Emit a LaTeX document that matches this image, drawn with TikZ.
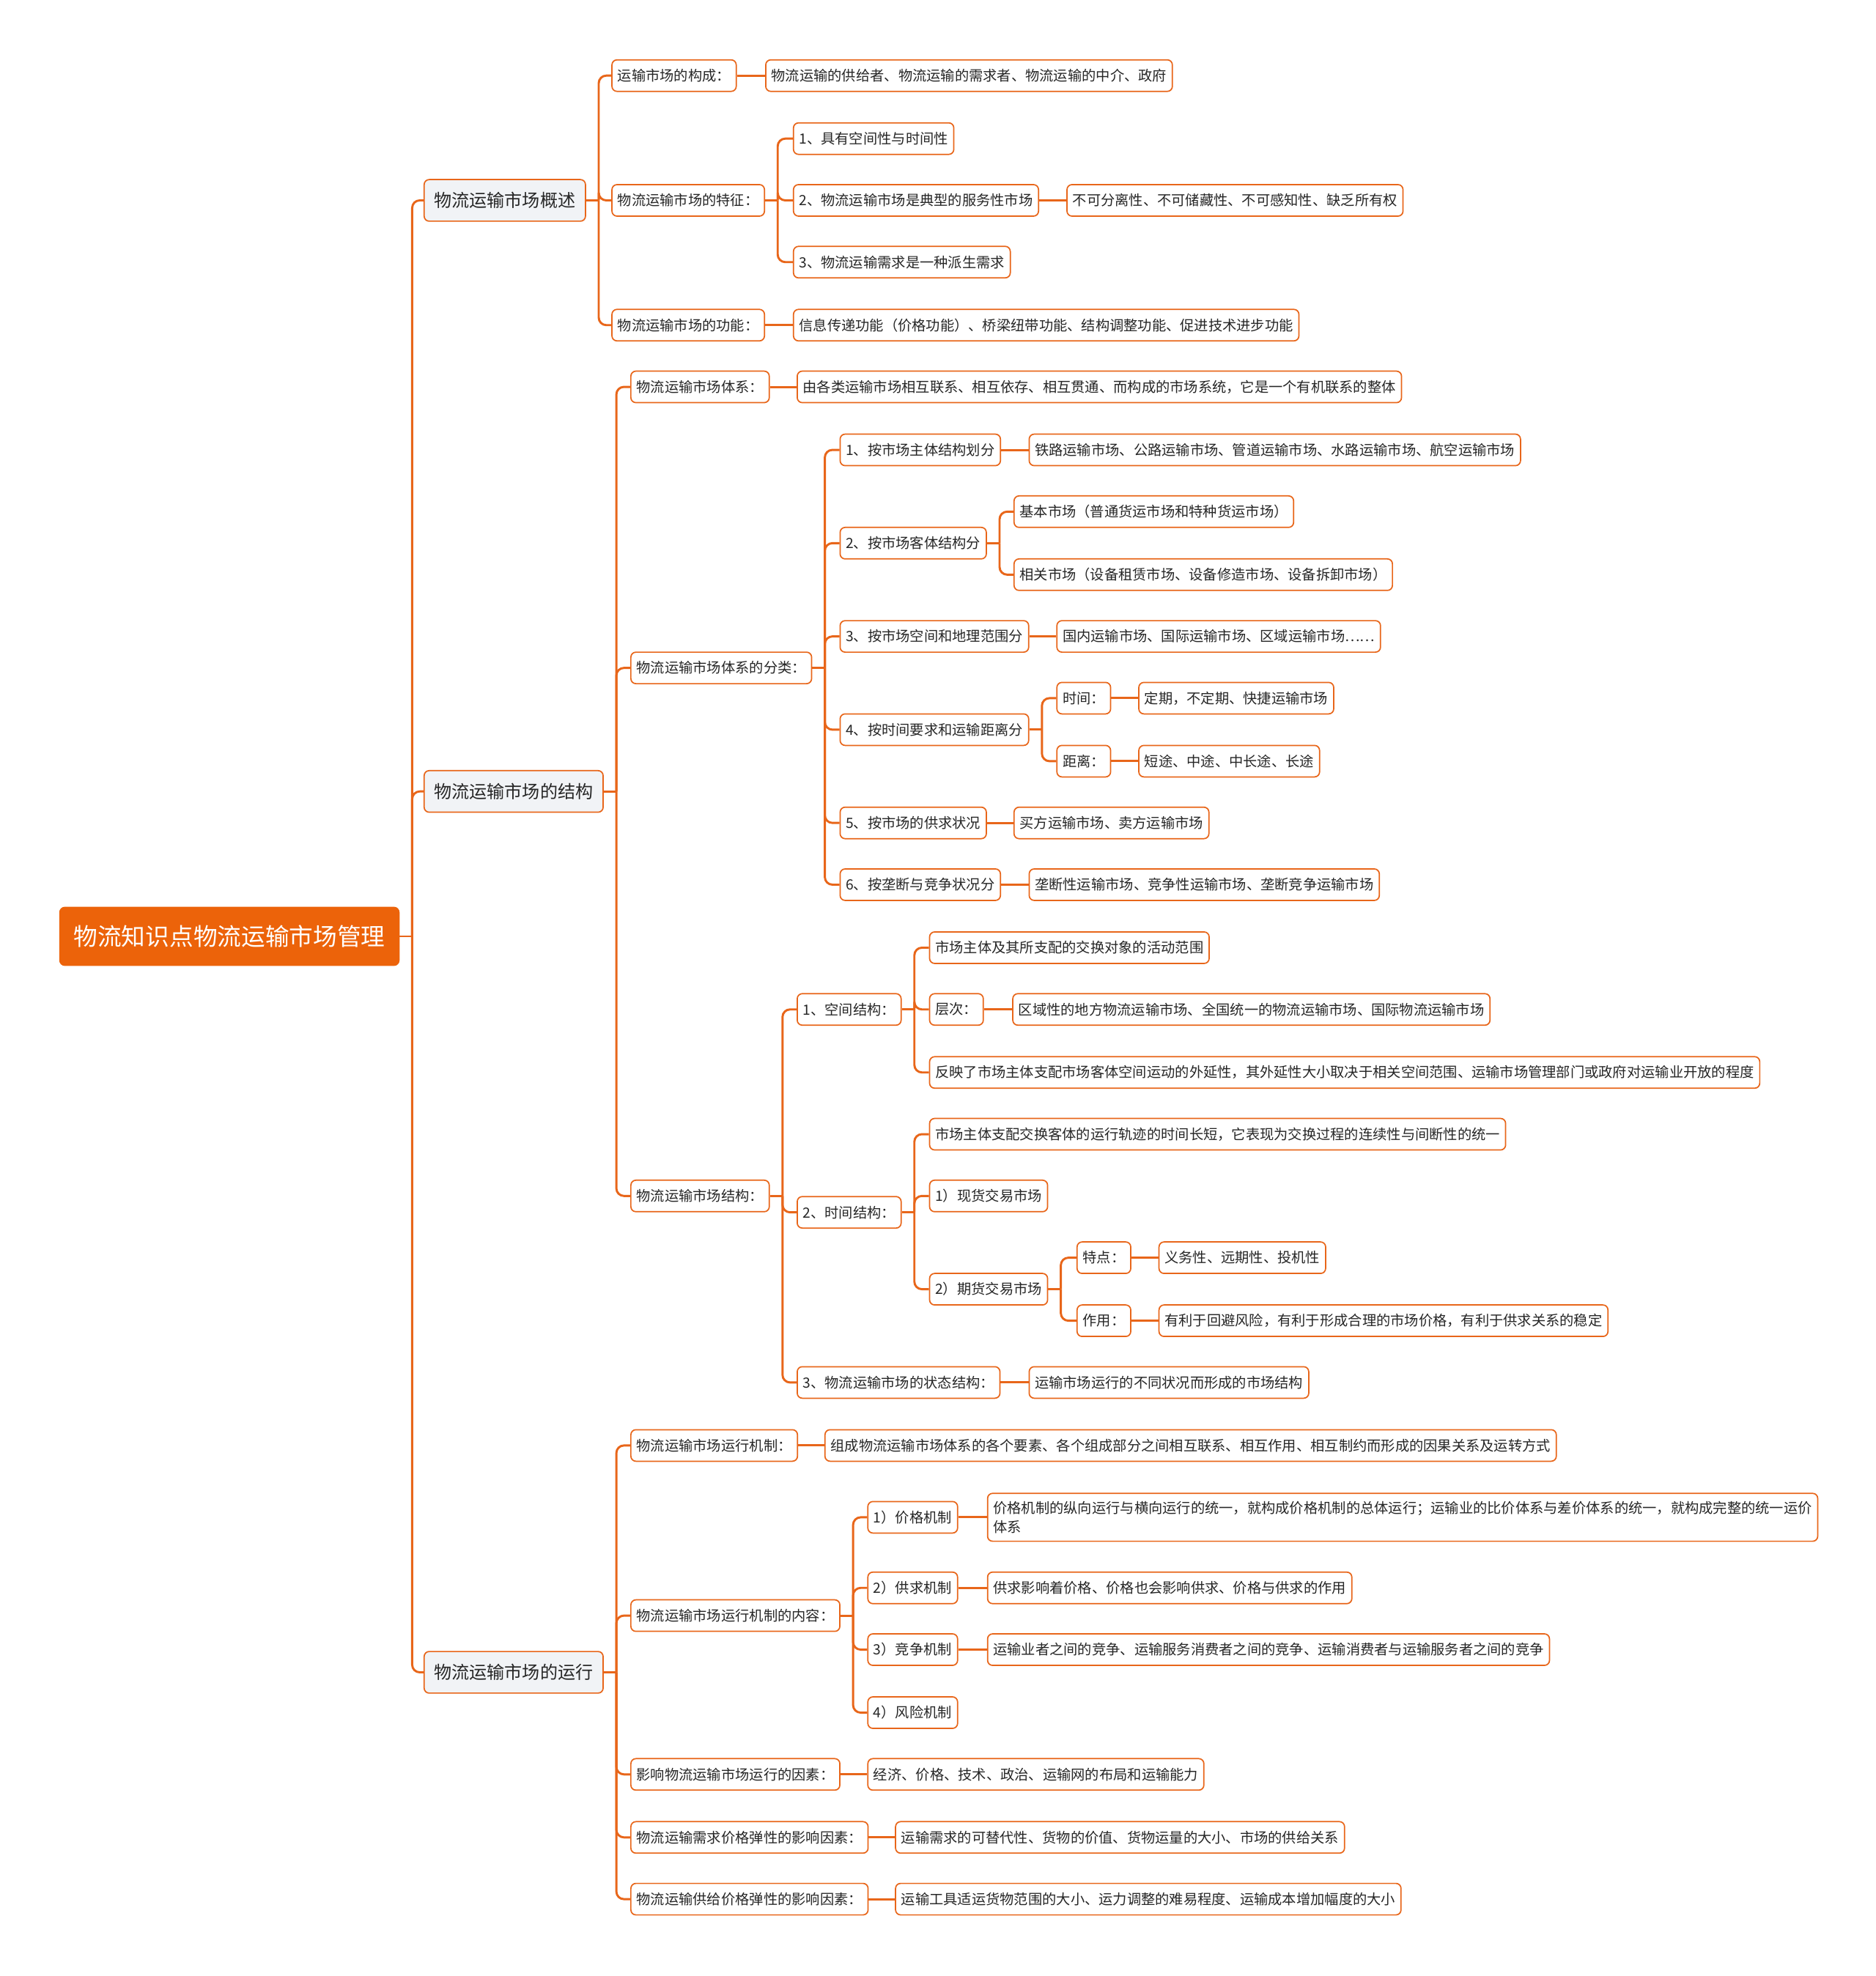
\documentclass[tikz,border=0pt]{standalone}
\usepackage{fontspec}
\setmainfont{Noto Sans CJK SC}
\definecolor{brand}{RGB}{232,102,26}
\definecolor{rootfill}{RGB}{236,99,10}
\definecolor{paleblue}{RGB}{241,243,246}

\begin{document}
\begin{tikzpicture}[x=1pt,y=-1pt]
	\tikzset{box/.style={draw=brand,line width=1pt,rounded corners=4pt,anchor=west,inner ysep=0pt,text=black!85}};
	\tikzset{leaf/.style={box,fill=white,font=\fontsize{11.2}{15}\selectfont,minimum height=25pt,inner xsep=4.5pt}};
	\tikzset{branch/.style={box,fill=paleblue,font=\fontsize{14}{17}\selectfont,minimum height=33pt,inner xsep=8pt}};
	\tikzset{rootbox/.style={box,draw=rootfill,fill=rootfill,text=white,font=\fontsize{19}{23}\selectfont,minimum height=46pt,inner xsep=11pt}};
	\tikzset{link/.style={draw=brand,line width=1.7pt,rounded corners=6pt}};

	\useasboundingbox (0,0) rectangle (1488,1568);

	% root and main branches
	\node[rootbox] (root) at (47,743) {物流知识点物流运输市场管理};
	\node[branch] (ov) at (336,159) {物流运输市场概述};
	\node[branch] (st) at (336,628) {物流运输市场的结构};
	\node[branch] (op) at (336,1327) {物流运输市场的运行};

	% overview
	\node[leaf] (ov1) at (485,60) {运输市场的构成：};
	\node[leaf] (ov1a) at (607,60) {物流运输的供给者、物流运输的需求者、物流运输的中介、政府};
	\node[leaf] (ov2) at (485,159) {物流运输市场的特征：};
	\node[leaf] (ov2a) at (629,110) {1、具有空间性与时间性};
	\node[leaf] (ov2b) at (629,159) {2、物流运输市场是典型的服务性市场};
	\node[leaf] (ov2b1) at (846,159) {不可分离性、不可储藏性、不可感知性、缺乏所有权};
	\node[leaf] (ov2c) at (629,208) {3、物流运输需求是一种派生需求};
	\node[leaf] (ov3) at (485,258) {物流运输市场的功能：};
	\node[leaf] (ov3a) at (629,258) {信息传递功能（价格功能）、桥梁纽带功能、结构调整功能、促进技术进步功能};

	% structure
	\node[leaf] (st1) at (500,307) {物流运输市场体系：};
	\node[leaf] (st1a) at (632,307) {由各类运输市场相互联系、相互依存、相互贯通、而构成的市场系统，它是一个有机联系的整体};
	\node[leaf] (st2) at (500,530) {物流运输市场体系的分类：};
	\node[leaf] (st2a) at (666,357) {1、按市场主体结构划分};
	\node[leaf] (st2a1) at (816,357) {铁路运输市场、公路运输市场、管道运输市场、水路运输市场、航空运输市场};
	\node[leaf] (st2b) at (666,431) {2、按市场客体结构分};
	\node[leaf] (st2b1) at (804,406) {基本市场（普通货运市场和特种货运市场）};
	\node[leaf] (st2b2) at (804,456) {相关市场（设备租赁市场、设备修造市场、设备拆卸市场）};
	\node[leaf] (st2c) at (666,505) {3、按市场空间和地理范围分};
	\node[leaf] (st2c1) at (838,505) {国内运输市场、国际运输市场、区域运输市场……};
	\node[leaf] (st2d) at (666,579) {4、按时间要求和运输距离分};
	\node[leaf] (st2d1) at (838,554) {时间：};
	\node[leaf] (st2d1a) at (903,554) {定期，不定期、快捷运输市场};
	\node[leaf] (st2d2) at (838,604) {距离：};
	\node[leaf] (st2d2a) at (903,604) {短途、中途、中长途、长途};
	\node[leaf] (st2e) at (666,653) {5、按市场的供求状况};
	\node[leaf] (st2e1) at (804,653) {买方运输市场、卖方运输市场};
	\node[leaf] (st2f) at (666,702) {6、按垄断与竞争状况分};
	\node[leaf] (st2f1) at (816,702) {垄断性运输市场、竞争性运输市场、垄断竞争运输市场};
	\node[leaf] (st3) at (500,949) {物流运输市场结构：};
	\node[leaf] (st3a) at (632,801) {1、空间结构：};
	\node[leaf] (st3a1) at (737,752) {市场主体及其所支配的交换对象的活动范围};
	\node[leaf] (st3a2) at (737,801) {层次：};
	\node[leaf] (st3a2a) at (803,801) {区域性的地方物流运输市场、全国统一的物流运输市场、国际物流运输市场};
	\node[leaf] (st3a3) at (737,851) {反映了市场主体支配市场客体空间运动的外延性，其外延性大小取决于相关空间范围、运输市场管理部门或政府对运输业开放的程度};
	\node[leaf] (st3b) at (632,962) {2、时间结构：};
	\node[leaf] (st3b1) at (737,900) {市场主体支配交换客体的运行轨迹的时间长短，它表现为交换过程的连续性与间断性的统一};
	\node[leaf] (st3b2) at (737,949) {1）现货交易市场};
	\node[leaf] (st3b3) at (737,1023) {2）期货交易市场};
	\node[leaf] (st3b3a) at (854,998) {特点：};
	\node[leaf] (st3b3a1) at (919,998) {义务性、远期性、投机性};
	\node[leaf] (st3b3b) at (854,1048) {作用：};
	\node[leaf] (st3b3b1) at (919,1048) {有利于回避风险，有利于形成合理的市场价格，有利于供求关系的稳定};
	\node[leaf] (st3c) at (632,1097) {3、物流运输市场的状态结构：};
	\node[leaf] (st3c1) at (816,1097) {运输市场运行的不同状况而形成的市场结构};

	% operation
	\node[leaf] (op1) at (500,1147) {物流运输市场运行机制：};
	\node[leaf] (op1a) at (654,1147) {组成物流运输市场体系的各个要素、各个组成部分之间相互联系、相互作用、相互制约而形成的因果关系及运转方式};
	\node[leaf] (op2) at (500,1282) {物流运输市场运行机制的内容：};
	\node[leaf] (op2a) at (688,1204) {1）价格机制};
	\node[leaf,align=left,minimum height=38pt] (op2a1) at (783,1204) {价格机制的纵向运行与横向运行的统一，就构成价格机制的总体运行；运输业的比价体系与差价体系的统一，就构成完整的统一运价\\体系};
	\node[leaf] (op2b) at (688,1260) {2）供求机制};
	\node[leaf] (op2b1) at (783,1260) {供求影响着价格、价格也会影响供求、价格与供求的作用};
	\node[leaf] (op2c) at (688,1309) {3）竞争机制};
	\node[leaf] (op2c1) at (783,1309) {运输业者之间的竞争、运输服务消费者之间的竞争、运输消费者与运输服务者之间的竞争};
	\node[leaf] (op2d) at (688,1359) {4）风险机制};
	\node[leaf] (op3) at (500,1408) {影响物流运输市场运行的因素：};
	\node[leaf] (op3a) at (688,1408) {经济、价格、技术、政治、运输网的布局和运输能力};
	\node[leaf] (op4) at (500,1458) {物流运输需求价格弹性的影响因素：};
	\node[leaf] (op4a) at (710,1458) {运输需求的可替代性、货物的价值、货物运量的大小、市场的供给关系};
	\node[leaf] (op5) at (500,1507) {物流运输供给价格弹性的影响因素：};
	\node[leaf] (op5a) at (710,1507) {运输工具适运货物范围的大小、运力调整的难易程度、运输成本增加幅度的大小};

	% forks: stub out of the parent, then one elbow per child
	\foreach \p/\kids in {root/{ov,st,op},ov/{ov1,ov2,ov3},ov2/{ov2a,ov2b,ov2c},
		st/{st1,st2,st3},st2/{st2a,st2b,st2c,st2d,st2e,st2f},st2b/{st2b1,st2b2},
		st2d/{st2d1,st2d2},st3/{st3a,st3b,st3c},st3a/{st3a1,st3a2,st3a3},
		st3b/{st3b1,st3b2,st3b3},st3b3/{st3b3a,st3b3b},
		op/{op1,op2,op3,op4,op5},op2/{op2a,op2b,op2c,op2d}}{
		\draw[link] (\p.east) -- ++(10,0) coordinate (\p-j);
		\foreach \c in \kids
		\draw[link] (\p-j) |- (\c.west);
	}

	% single leaves on the same line
	\foreach \a/\b in {ov1/ov1a,ov2b/ov2b1,ov3/ov3a,st1/st1a,st2a/st2a1,st2c/st2c1,
		st2d1/st2d1a,st2d2/st2d2a,st2e/st2e1,st2f/st2f1,st3a2/st3a2a,
		st3b3a/st3b3a1,st3b3b/st3b3b1,st3c/st3c1,op1/op1a,op2a/op2a1,
		op2b/op2b1,op2c/op2c1,op3/op3a,op4/op4a,op5/op5a}
	\draw[link] (\a.east) -- (\b.west);
\end{tikzpicture}
\end{document}
